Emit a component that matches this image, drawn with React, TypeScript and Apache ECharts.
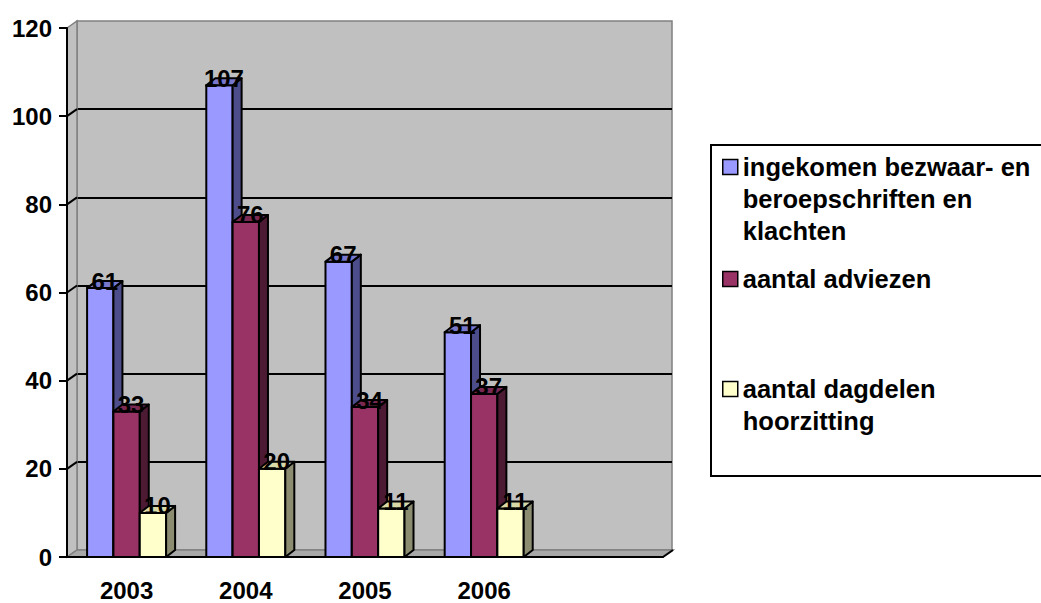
import React, { useEffect, useRef } from 'react';
import * as echarts from 'echarts';

const years = ['2003', '2004', '2005', '2006', ''];
const seriesNames = [
  'ingekomen bezwaar- en beroepschriften en klachten',
  'aantal adviezen',
  'aantal dagdelen hoorzitting',
];
const legendLines = [
  ['ingekomen bezwaar- en', 'beroepschriften en', 'klachten'],
  ['aantal adviezen'],
  ['aantal dagdelen', 'hoorzitting'],
];
const ingekomen = [61, 107, 67, 51];
const adviezen = [33, 76, 34, 37];
const dagdelen = [10, 20, 11, 11];
const yTicks = [0, 20, 40, 60, 80, 100, 120];

const frontColors = ['#9999ff', '#993366', '#ffffcc'];
const sideColors = ['#4d4d8c', '#4d1a33', '#8c8c70'];
const topColors = ['#7777cc', '#7a2952', '#d9d9a8'];

const FONT = '"Liberation Sans", Arial, sans-serif';

function makeBarSeries(k: number, values: number[]) {
  return {
    type: 'custom',
    name: seriesNames[k],
    xAxisIndex: 0,
    yAxisIndex: 0,
    z: 3,
    itemStyle: { color: frontColors[k], borderColor: '#000', borderWidth: 1.5 },
    data: values.map((v, i) => [i, v]),
    encode: { x: 0, y: 1 },
    renderItem: (params: any, api: any) => {
      const idx = api.value(0);
      const v = api.value(1);
      const top = api.coord([idx, v]);
      const base = api.coord([idx, 0]);
      const catW = api.size([1, 0])[0];
      const bw = catW * 0.221;
      const x0 = top[0] - 1.5 * bw + k * bw;
      const x1 = x0 + bw;
      const yT = top[1];
      const yB = base[1];
      const dx = 9;
      const dy = -7;
      const st = { stroke: '#000', lineWidth: 2, lineJoin: 'round' };
      return {
        type: 'group',
        children: [
          { type: 'rect', shape: { x: x0, y: yT, width: bw, height: yB - yT }, style: { fill: frontColors[k], ...st } },
          { type: 'polygon', shape: { points: [[x1, yT], [x1 + dx, yT + dy], [x1 + dx, yB + dy], [x1, yB]] }, style: { fill: sideColors[k], ...st } },
          { type: 'polygon', shape: { points: [[x0, yT], [x0 + dx, yT + dy], [x1 + dx, yT + dy], [x1, yT]] }, style: { fill: topColors[k], ...st } },
          {
            type: 'text',
            style: {
              text: String(v),
              x: (x0 + x1 + dx) / 2,
              y: yT + 5,
              fill: '#000',
              font: `bold 24px ${FONT}`,
              align: 'center',
              verticalAlign: 'bottom',
            },
          },
        ],
      };
    },
  };
}

const wallSeries = {
  type: 'custom',
  name: 'walls',
  xAxisIndex: 0,
  yAxisIndex: 0,
  z: 1,
  silent: true,
  data: yTicks.map((v) => [0, v]),
  renderItem: (params: any, api: any) => {
    const cs = params.coordSys;
    const v = api.value(1);
    const y = api.coord([0, v])[1];
    const x = cs.x;
    const dx = 10;
    const dy = -7;
    const children: any[] = [];
    if (params.dataIndex === 0) {
      const top = cs.y;
      const bottom = cs.y + cs.height;
      const right = cs.x + cs.width;
      children.push({
        type: 'polygon',
        shape: { points: [[x, top], [x + dx, top + dy], [x + dx, bottom + dy], [x, bottom]] },
        style: { fill: '#c0c0c0', stroke: '#808080', lineWidth: 1.5 },
      });
      children.push({
        type: 'polygon',
        shape: { points: [[x, bottom], [x + dx, bottom + dy], [right + dx, bottom + dy], [right, bottom]] },
        style: { fill: '#a8a8a8', stroke: '#808080', lineWidth: 1.5 },
      });
      children.push({
        type: 'line',
        shape: { x1: right, y1: bottom, x2: right + dx, y2: bottom + dy },
        style: { stroke: '#000', lineWidth: 2 },
      });
    }
    if (v > 0 && v < 120) {
      children.push({ type: 'line', shape: { x1: x, y1: y, x2: x + dx, y2: y + dy }, style: { stroke: '#000', lineWidth: 2 } });
    }
    return { type: 'group', children };
  },
};

function makeLegend(k: number, top: number) {
  const lines = legendLines[k];
  // leading blank lines keep the marker level with the first line of text
  const prefix = new Array(lines.length - 1).fill('').join('\n');
  return {
    data: [seriesNames[k]],
    left: 722,
    top,
    padding: 0,
    orient: 'vertical',
    icon: 'rect',
    itemWidth: 15,
    itemHeight: 15,
    selectedMode: false,
    itemStyle: { borderColor: '#000', borderWidth: 1.5 },
    formatter: () => (lines.length > 1 ? prefix + '\n' : '') + lines.join('\n'),
    textStyle: {
      fontSize: 25.5,
      fontWeight: 'bold',
      fontFamily: FONT,
      color: '#000',
      lineHeight: 32,
    },
  };
}

export default function App() {
  const ref = useRef<HTMLDivElement>(null);
  useEffect(() => {
    if (!ref.current) return;
    const chart = echarts.init(ref.current, undefined, { renderer: 'svg' });
    chart.setOption({
      animation: false,
      backgroundColor: '#fff',
      grid: [
        { left: 67, right: 378, top: 28, bottom: 46, containLabel: false },
        {
          left: 77, right: 369, top: 21, bottom: 53, show: true,
          backgroundColor: '#c0c0c0', borderColor: '#808080', borderWidth: 1.5,
        },
      ],
      xAxis: [
        {
          type: 'category', gridIndex: 0, data: years, boundaryGap: true, z: 5,
          axisLine: { lineStyle: { color: '#000', width: 2 } },
          axisTick: { length: 10, lineStyle: { color: '#000', width: 2 } },
          axisLabel: { margin: 21, fontSize: 24, fontWeight: 'bold', fontFamily: FONT, color: '#000' },
          splitLine: { show: false },
        },
        { type: 'category', gridIndex: 1, data: years, show: false },
      ],
      yAxis: [
        {
          type: 'value', gridIndex: 0, min: 0, max: 120, interval: 20, z: 5,
          axisLine: { show: true, lineStyle: { color: '#000', width: 2 } },
          axisTick: { show: true, length: 8, lineStyle: { color: '#000', width: 2 } },
          axisLabel: { margin: 15, fontSize: 24, fontWeight: 'bold', fontFamily: FONT, color: '#000' },
          splitLine: { show: false },
        },
        {
          type: 'value', gridIndex: 1, min: 0, max: 120, interval: 20,
          axisLine: { show: false }, axisTick: { show: false }, axisLabel: { show: false },
          splitLine: { show: true, showMinLine: false, showMaxLine: false, lineStyle: { color: '#000', width: 2 } },
        },
      ],
      legend: [makeLegend(0, 87), makeLegend(1, 263), makeLegend(2, 341)],
      graphic: [
        {
          type: 'rect', z: 1,
          shape: { x: 711, y: 145, width: 340, height: 331 },
          style: { fill: '#fff', stroke: '#000', lineWidth: 2 },
        },
      ],
      series: [
        wallSeries,
        makeBarSeries(0, ingekomen),
        makeBarSeries(1, adviezen),
        makeBarSeries(2, dagdelen),
      ],
    });
    return () => chart.dispose();
  }, []);
  return (
    <div
      ref={ref}
      style={{ position: 'absolute', left: 0, top: 0, width: 1041, height: 603 }}
    />
  );
}
